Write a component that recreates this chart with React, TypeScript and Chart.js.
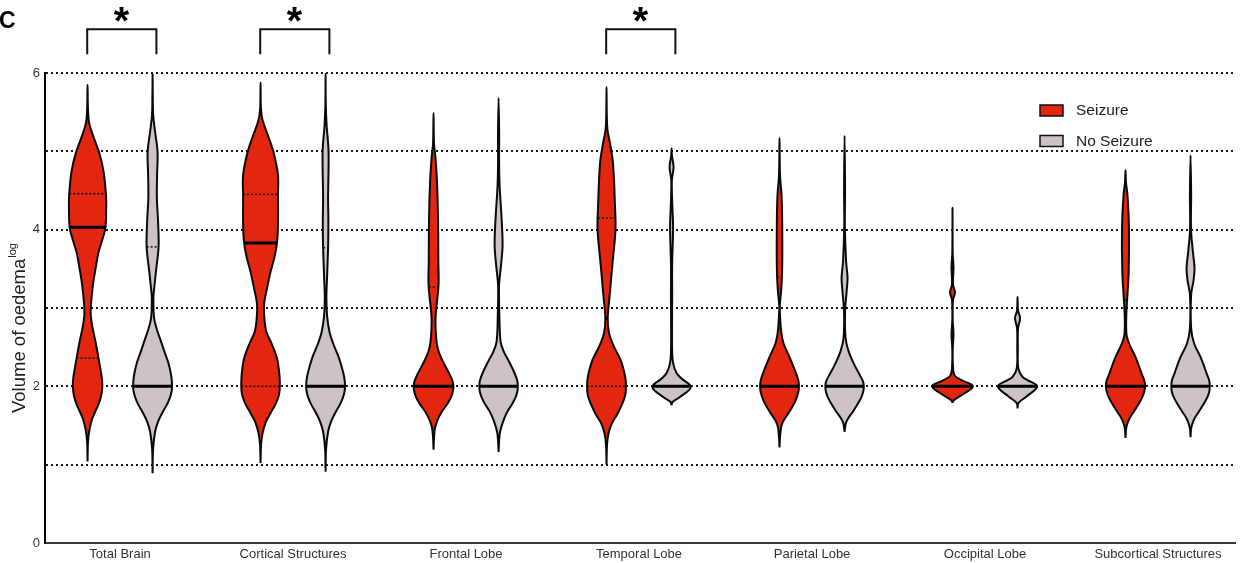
import React, { useEffect, useRef } from 'react';
import { Chart, registerables } from 'chart.js';

Chart.register(...registerables);

const FONT = "'Liberation Sans', Arial, Helvetica, sans-serif";

const categories = [
  'Total Brain',
  'Cortical Structures',
  'Frontal Lobe',
  'Temporal Lobe',
  'Parietal Lobe',
  'Occipital Lobe',
  'Subcortical Structures',
];
const seriesNames = ['Seizure', 'No Seizure'];
const seriesColors = ['#E3260F', '#CDC3C4'];

const yAxisTitle = 'Volume of oedema';
const yAxisTitleSup = 'log';
const yTickLabels = [0, 2, 4, 6];
const gridValues = [1, 2, 3, 4, 5, 6];
const panelLetter = 'C';
const significantCategories = [0, 1, 3];
const significanceMark = '*';

// medians and quartiles (log volume)
const seizureMedians = [4.03, 3.83, 2.0, 2.87, 2.0, 2.0, 2.0];
const noSeizureMedians = [2.0, 2.0, 2.0, 2.0, 2.0, 2.0, 2.0];
const seizureLowerQuartiles = [2.36, 2.0, 2.0, 2.0, 2.0, 2.0, 2.0];
const seizureUpperQuartiles = [4.46, 4.45, 3.27, 4.15, 3.4, 2.0, 3.1];
const noSeizureLowerQuartiles = [2.0, 2.0, 2.0, 2.0, 2.0, 2.0, 2.0];
const noSeizureUpperQuartiles = [3.78, 3.77, 2.0, 2.0, 2.0, 2.0, 2.0];

// density profiles: [value, relative density]
const densityTotalBrainSeizure = [[1.04,0],[1.3,0.5],[1.45,2],[1.58,4.5],[1.67,7.5],[1.77,11],[1.87,13.5],[1.95,14.5],[2.02,14.8],[2.11,14.3],[2.2,13.2],[2.36,11],[2.57,8],[2.75,5],[2.91,3.2],[3.1,3.8],[3.33,5.8],[3.5,8],[3.71,11],[3.9,15.5],[4.03,18],[4.25,18.7],[4.44,18.5],[4.75,16],[4.99,11.5],[5.2,5.5],[5.37,1.5],[5.55,0.4],[5.85,0]];
const densityTotalBrainNoSeizure = [[0.89,0],[1.2,0.5],[1.42,2.5],[1.55,5.5],[1.67,10],[1.77,14.5],[1.86,17.5],[1.93,19],[1.99,19.5],[2.07,19.3],[2.17,18.2],[2.3,15.8],[2.42,12.5],[2.57,8.5],[2.72,4.5],[2.87,1.5],[3.13,0.8],[3.3,2],[3.46,3.3],[3.78,6],[4.1,5.5],[4.4,4.3],[4.7,4.5],[4.99,5],[5.25,2.5],[5.46,0.6],[5.7,0.2],[5.99,0]];
const densityCorticalSeizure = [[1.02,0],[1.25,0.5],[1.4,2],[1.55,5.5],[1.67,10.5],[1.77,15],[1.86,17.8],[1.93,19],[1.99,19.3],[2.07,19.3],[2.17,18.8],[2.36,16.5],[2.55,11],[2.69,6],[2.85,4],[3.04,3.5],[3.25,6.5],[3.46,10],[3.65,14],[3.83,16.5],[4.06,17.5],[4.44,17.5],[4.7,17.5],[4.99,13],[5.2,7.5],[5.4,2],[5.55,0.4],[5.88,0]];
const densityCorticalNoSeizure = [[0.91,0],[1.2,0.5],[1.42,2.5],[1.55,5.5],[1.67,10],[1.77,14.5],[1.86,17.5],[1.93,19],[1.99,19.5],[2.07,19.2],[2.17,17.8],[2.36,13.5],[2.55,7.5],[2.69,4],[2.9,1.5],[3.13,0.8],[3.4,1.5],[3.77,2.5],[4.1,2.8],[4.4,2.5],[4.99,3],[5.34,1],[5.6,0.2],[5.99,0]];
const densityFrontalSeizure = [[1.19,0],[1.35,0.5],[1.47,1.5],[1.57,4],[1.67,8],[1.77,13.5],[1.86,17.5],[1.93,19.3],[1.99,20],[2.07,19],[2.17,15.5],[2.31,9.7],[2.45,5],[2.57,3],[2.87,2],[3.29,5],[3.6,4.8],[4.15,4.5],[4.6,3.5],[4.91,2],[5.1,0.5],[5.49,0]];
const densityFrontalNoSeizure = [[1.16,0],[1.3,0.5],[1.42,1.5],[1.55,4.5],[1.67,8.5],[1.77,13.5],[1.86,17],[1.93,18.8],[1.99,19.3],[2.07,18.8],[2.17,16],[2.31,10.7],[2.45,5],[2.57,2],[2.9,0.8],[3.29,0.5],[3.55,2.5],[3.8,4],[4.15,3],[4.57,1],[4.9,0.5],[5.2,0.6],[5.68,0]];
const densityTemporalSeizure = [[1.0,0],[1.25,0.5],[1.4,2],[1.53,5.5],[1.66,11.5],[1.77,15.5],[1.86,18.3],[1.93,19.3],[1.99,19.5],[2.07,19.3],[2.17,18],[2.34,14],[2.52,7],[2.68,2.5],[2.87,1.2],[3.14,3],[3.57,6],[4.0,9],[4.3,8.5],[4.85,6.5],[5.1,3.5],[5.27,1],[5.45,0.3],[5.82,0]];
const densityTemporalNoSeizure = [[1.76,0],[1.8,1],[1.86,8],[1.99,19.3],[2.1,10],[2.17,5],[2.3,1.5],[2.5,0.5],[3.14,0.6],[3.57,0.6],[4.03,1.5],[4.4,0.5],[4.63,0.3],[4.8,2],[4.95,0.3],[5.04,0]];
const densityParietalSeizure = [[1.22,0],[1.35,0.5],[1.47,1.5],[1.55,3.5],[1.63,7.5],[1.73,12.5],[1.83,16.5],[1.92,18.8],[1.99,19.5],[2.07,19],[2.17,16.5],[2.36,10.5],[2.55,4],[2.69,1.8],[2.9,0.5],[3.04,0.3],[3.2,1.5],[3.42,2.5],[3.84,2.8],[4.4,2.2],[4.7,0.5],[5.17,0]];
const densityParietalNoSeizure = [[1.42,0],[1.5,0.8],[1.54,1.5],[1.6,4],[1.67,8],[1.77,13],[1.86,16.8],[1.93,18.7],[1.99,19.3],[2.06,18.6],[2.14,15.5],[2.27,10],[2.45,4],[2.62,1],[2.95,0.5],[3.2,2],[3.38,3],[3.6,1.5],[4.06,0.3],[4.5,0.5],[5.2,0]];
const densityOccipitalSeizure = [[1.79,0],[1.82,1],[1.87,7],[2.0,20.5],[2.08,9],[2.14,2],[2.3,0.3],[2.5,0.3],[2.66,1],[2.85,0.2],[3.1,0.5],[3.2,2.5],[3.3,0.5],[3.52,1],[3.7,0.2],[4.28,0]];
const densityOccipitalNoSeizure = [[1.72,0],[1.79,1],[1.87,9],[2.0,19.8],[2.08,10],[2.12,5],[2.23,0.8],[2.5,0.3],[2.74,0.5],[2.87,2.5],[2.97,0.5],[3.14,0]];
const densitySubcorticalSeizure = [[1.34,0],[1.45,0.5],[1.51,1.5],[1.59,4],[1.67,8],[1.77,13],[1.86,16.8],[1.93,18.8],[2.0,19.7],[2.07,19],[2.16,16.3],[2.36,10.5],[2.55,3.5],[2.66,1],[2.9,0.8],[3.08,1.5],[3.46,3.2],[4.02,3.5],[4.44,2],[4.6,0.5],[4.76,0]];
const densitySubcorticalNoSeizure = [[1.35,0],[1.45,0.5],[1.51,1.5],[1.59,4],[1.67,8],[1.77,13],[1.86,16.8],[1.93,18.8],[2.0,19.3],[2.07,18.8],[2.16,16.3],[2.36,10.5],[2.55,3.5],[2.74,0.6],[3.17,0.6],[3.35,3],[3.51,4],[3.7,2.5],[4.0,0.5],[4.44,0.6],[4.95,0]];

const seizureDensities = [
  densityTotalBrainSeizure, densityCorticalSeizure, densityFrontalSeizure, densityTemporalSeizure,
  densityParietalSeizure, densityOccipitalSeizure, densitySubcorticalSeizure,
];
const noSeizureDensities = [
  densityTotalBrainNoSeizure, densityCorticalNoSeizure, densityFrontalNoSeizure, densityTemporalNoSeizure,
  densityParietalNoSeizure, densityOccipitalNoSeizure, densitySubcorticalNoSeizure,
];

// layout constants (styling)
const GROUP_OFFSET = 0.188;
const MAX_HALF_WIDTH = 0.118;
const DENSITY_REF = 20.5;
const X_MIN = -0.434;
const X_MAX = 6.445;

function densityAt(profile: number[][], v: number): number {
  for (let i = 0; i < profile.length - 1; i++) {
    const [v0, d0] = profile[i];
    const [v1, d1] = profile[i + 1];
    if (v >= v0 && v <= v1) {
      const t = v1 === v0 ? 0 : (v - v0) / (v1 - v0);
      return d0 + (d1 - d0) * t;
    }
  }
  return 0;
}

function violinOutline(profile: number[][], center: number) {
  const k = MAX_HALF_WIDTH / DENSITY_REF;
  const right = profile.map(([v, d]) => ({ x: center + d * k, y: v }));
  const left = profile
    .slice()
    .reverse()
    .map(([v, d]) => ({ x: center - d * k, y: v }));
  return [...right, ...left.slice(1)];
}

function hLine(profile: number[][], center: number, v: number) {
  const w = densityAt(profile, v) * (MAX_HALF_WIDTH / DENSITY_REF);
  return [
    { x: center - w, y: v },
    { x: center + w, y: v },
  ];
}

function buildDatasets() {
  const ds: any[] = [];
  categories.forEach((cat, i) => {
    [0, 1].forEach((s) => {
      const profile = s === 0 ? seizureDensities[i] : noSeizureDensities[i];
      const center = i + (s === 0 ? -GROUP_OFFSET : GROUP_OFFSET);
      const median = s === 0 ? seizureMedians[i] : noSeizureMedians[i];
      const q1 = s === 0 ? seizureLowerQuartiles[i] : noSeizureLowerQuartiles[i];
      const q3 = s === 0 ? seizureUpperQuartiles[i] : noSeizureUpperQuartiles[i];
      ds.push({
        label: `${seriesNames[s]} – ${cat}`,
        data: violinOutline(profile, center),
        borderColor: '#0a0a0a',
        borderWidth: 2,
        backgroundColor: seriesColors[s],
        fill: 'shape',
        pointRadius: 0,
        tension: 0.35,
        order: 2,
      });
      [q1, q3].forEach((q) => {
        ds.push({
          label: `${seriesNames[s]} – ${cat} quartile`,
          data: hLine(profile, center, q),
          borderColor: '#111',
          borderWidth: 1.5,
          borderDash: [2, 2],
          pointRadius: 0,
          fill: false,
          tension: 0,
          order: 1,
        });
      });
      ds.push({
        label: `${seriesNames[s]} – ${cat} median`,
        data: hLine(profile, center, median),
        borderColor: '#000',
        borderWidth: 3,
        pointRadius: 0,
        fill: false,
        tension: 0,
        order: 0,
      });
    });
  });
  return ds;
}

const annotationsPlugin = {
  id: 'annotations',
  afterDraw(chart: any) {
    const { ctx, chartArea, scales } = chart;
    const xs = scales.x;
    const ys = scales.y;
    ctx.save();

    // panel letter
    ctx.fillStyle = '#000';
    ctx.font = `bold 23px ${FONT}`;
    ctx.textAlign = 'left';
    ctx.textBaseline = 'alphabetic';
    ctx.fillText(panelLetter, -1, 28);

    // y axis title with superscript
    ctx.save();
    ctx.translate(25, 413);
    ctx.rotate(-Math.PI / 2);
    ctx.fillStyle = '#222';
    ctx.font = `18.5px ${FONT}`;
    ctx.textAlign = 'left';
    ctx.textBaseline = 'alphabetic';
    ctx.fillText(yAxisTitle, 0, 0);
    const w = ctx.measureText(yAxisTitle).width;
    ctx.font = `11px ${FONT}`;
    ctx.fillText(yAxisTitleSup, w + 1, -9);
    ctx.restore();

    // significance brackets
    significantCategories.forEach((i) => {
      const x1 = xs.getPixelForValue(i - 0.19);
      const x2 = xs.getPixelForValue(i + 0.21);
      const yTop = ys.getPixelForValue(6.56);
      const yBot = ys.getPixelForValue(6.24);
      ctx.strokeStyle = '#111';
      ctx.lineWidth = 2;
      ctx.setLineDash([]);
      ctx.beginPath();
      ctx.moveTo(x1, yBot);
      ctx.lineTo(x1, yTop);
      ctx.lineTo(x2, yTop);
      ctx.lineTo(x2, yBot);
      ctx.stroke();

      ctx.font = `bold 100px ${FONT}`;
      const m = ctx.measureText(significanceMark);
      const h = m.actualBoundingBoxAscent + m.actualBoundingBoxDescent;
      const size = (100 * 15) / h;
      ctx.font = `bold ${size}px ${FONT}`;
      const m2 = ctx.measureText(significanceMark);
      const cx = (x1 + x2) / 2;
      const cy = ys.getPixelForValue(6.75);
      const baseY = cy + (m2.actualBoundingBoxAscent - m2.actualBoundingBoxDescent) / 2;
      const bx = cx - (m2.actualBoundingBoxRight - m2.actualBoundingBoxLeft) / 2 + m2.actualBoundingBoxLeft;
      ctx.fillStyle = '#000';
      ctx.textAlign = 'left';
      ctx.textBaseline = 'alphabetic';
      ctx.fillText(significanceMark, bx, baseY);
    });

    // legend
    const lx = chartArea.right - 195;
    const rows = [110.5, 141];
    seriesNames.forEach((name, s) => {
      const cy = rows[s];
      ctx.fillStyle = seriesColors[s];
      ctx.fillRect(lx, cy - 5.5, 23, 11);
      ctx.strokeStyle = '#111';
      ctx.lineWidth = 1.5;
      ctx.strokeRect(lx, cy - 5.5, 23, 11);
      ctx.fillStyle = '#222';
      ctx.font = `15.5px ${FONT}`;
      ctx.textAlign = 'left';
      ctx.textBaseline = 'middle';
      ctx.fillText(name, lx + 36, cy + 0.5);
    });

    ctx.restore();
  },
};

export default function App() {
  const canvasRef = useRef<HTMLCanvasElement | null>(null);

  useEffect(() => {
    document.body.style.margin = '0';
    const canvas = canvasRef.current;
    if (!canvas) return;
    Chart.defaults.font.family = FONT;
    const chart = new Chart(canvas, {
      type: 'line',
      data: { datasets: buildDatasets() },
      options: {
        animation: false,
        responsive: false,
        devicePixelRatio: 1,
        events: [],
        layout: { padding: { left: 0, top: 73, right: 8, bottom: 0 } },
        plugins: {
          legend: { display: false },
          tooltip: { enabled: false },
          title: { display: false },
        },
        scales: {
          x: {
            type: 'linear',
            min: X_MIN,
            max: X_MAX,
            grid: { display: false, drawTicks: false },
            border: { display: true, color: '#3a3a3a', width: 2 },
            afterBuildTicks: (scale: any) => {
              scale.ticks = categories.map((_, i) => ({ value: i }));
            },
            afterFit: (scale: any) => {
              scale.height = 20;
            },
            ticks: {
              autoSkip: false,
              maxRotation: 0,
              padding: 4,
              color: '#333',
              font: { size: 13, family: FONT },
              callback: (v: any) => categories[Math.round(v)] ?? '',
            },
          },
          y: {
            type: 'linear',
            min: 0,
            max: 6,
            afterBuildTicks: (scale: any) => {
              const vals = Array.from(new Set([0, ...gridValues, ...yTickLabels])).sort((a, b) => a - b);
              scale.ticks = vals.map((v) => ({ value: v }));
            },
            afterFit: (scale: any) => {
              scale.width = 45;
            },
            grid: {
              drawTicks: false,
              lineWidth: 2,
              color: (ctx: any) => (gridValues.includes(ctx.tick?.value) ? '#1a1a1a' : 'rgba(0,0,0,0)'),
            },
            border: { display: true, color: '#000', width: 2, dash: [2, 3] },
            ticks: {
              padding: 5,
              color: '#333',
              font: { size: 13, family: FONT },
              callback: (v: any) => (yTickLabels.includes(v) ? String(v) : ''),
            },
          },
        },
      },
      plugins: [annotationsPlugin],
    } as any);
    return () => chart.destroy();
  }, []);

  return (
    <div style={{ width: 1243, height: 563 }}>
      <canvas ref={canvasRef} width={1243} height={563} style={{ display: 'block' }} />
    </div>
  );
}
